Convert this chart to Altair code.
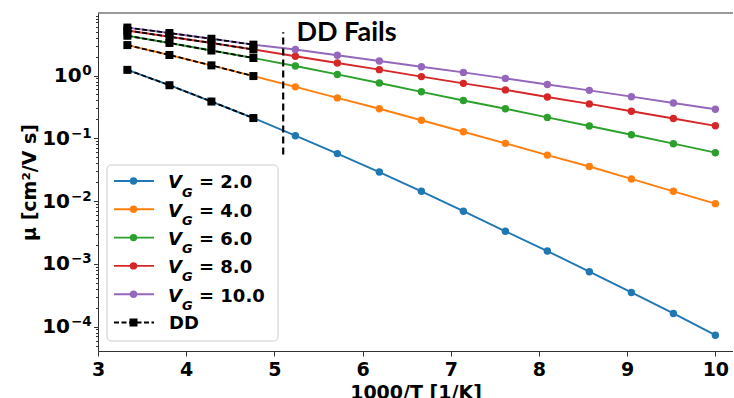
import altair as alt
import pandas as pd

# ---------------- data ----------------
x_vals = [3.333, 3.810, 4.286, 4.762, 5.238, 5.714, 6.190, 6.667,
          7.143, 7.619, 8.095, 8.571, 9.048, 9.524, 10.0]
vg_labels = ["2.0", "4.0", "6.0", "8.0", "10.0"]
mu_vg2 = [1.23, 0.70, 0.385, 0.21, 0.11, 0.057, 0.029, 0.0143,
          0.0069, 0.0033, 0.0016, 0.00075, 0.00035, 0.000162, 0.000073]
mu_vg4 = [3.05, 2.12, 1.45, 0.98, 0.66, 0.44, 0.295, 0.194,
          0.127, 0.083, 0.054, 0.0355, 0.0225, 0.0143, 0.0091]
mu_vg6 = [4.3, 3.3, 2.5, 1.9, 1.42, 1.04, 0.76, 0.55,
          0.40, 0.295, 0.215, 0.157, 0.114, 0.082, 0.059]
mu_vg8 = [5.2, 4.15, 3.3, 2.6, 2.03, 1.58, 1.24, 0.96,
          0.75, 0.59, 0.455, 0.353, 0.27, 0.207, 0.158]
mu_vg10 = [5.8, 4.75, 3.85, 3.1, 2.6, 2.1, 1.7, 1.38,
           1.12, 0.9, 0.72, 0.58, 0.46, 0.365, 0.29]
n_dd = 4  # DD solution available for the first four temperatures
dd_fail_x = 5.1
dd_fail_y = [0.055, 4.9]
x_ticks = [3, 4, 5, 6, 7, 8, 9, 10]
y_major_exp = [0, -1, -2, -3, -4]

colors = ["#1f77b4", "#ff7f0e", "#2ca02c", "#d62728", "#9467bd"]
series = [mu_vg2, mu_vg4, mu_vg6, mu_vg8, mu_vg10]

rows = []
for lab, ys in zip(vg_labels, series):
    for i, (xv, yv) in enumerate(zip(x_vals, ys)):
        rows.append({"x": xv, "mu": yv, "vg": lab, "i": i})
df = pd.DataFrame(rows)
dd = df[df["i"] < n_dd]

# ---------------- scales / axes ----------------
W, H = 635, 338
FONT = "DejaVu Sans"
FS = 19
xscale = alt.Scale(domain=[3, 10.2], nice=False, zero=False)
yscale = alt.Scale(type="log", domain=[4.09e-5, 9.9], nice=False)
cscale = alt.Scale(domain=vg_labels, range=colors)

y_ticks = []
for e in range(-5, 1):
    for m in range(1, 10):
        v = m * 10.0 ** e
        if 4.09e-5 <= v <= 9.9:
            y_ticks.append(v)

is_major = "abs(log(datum.value)/LN10 - round(log(datum.value)/LN10)) < 1e-6"

xaxis = alt.Axis(values=x_ticks, format="d", title="1000/T [1/K]", grid=False,
                 labelFont=FONT, labelFontSize=FS, labelFontWeight="bold",
                 labelColor="black", labelPadding=4, labelFlush=False,
                 titleFont=FONT, titleFontSize=FS, titleFontWeight="bold",
                 titleColor="black", titlePadding=4,
                 tickSize=5, tickColor="#333", domainColor="#333")
yaxis = alt.Axis(values=y_ticks, labels=False, title="μ [cm²/V s]", grid=False,
                 titleFont=FONT, titleFontSize=FS, titleFontWeight="bold",
                 titleColor="black", titleAngle=270, titleAlign="center",
                 titleBaseline="alphabetic", titleX=-63, titleY=H / 2,
                 tickSize={"condition": {"test": is_major, "value": 4.5}, "value": 2.5},
                 tickColor="#333", domainColor="#333")

base = alt.Chart(df)
lines = base.mark_line(strokeWidth=1.9).encode(
    x=alt.X("x:Q", scale=xscale, axis=xaxis),
    y=alt.Y("mu:Q", scale=yscale, axis=yaxis),
    color=alt.Color("vg:N", scale=cscale, legend=None),
    order="x:Q",
)
points = base.mark_point(filled=True, shape="circle", size=55, opacity=1).encode(
    x=alt.X("x:Q", scale=xscale),
    y=alt.Y("mu:Q", scale=yscale),
    color=alt.Color("vg:N", scale=cscale, legend=None),
)
dd_lines = alt.Chart(dd).mark_line(color="black", strokeWidth=1.8, strokeDash=[5, 2.5]).encode(
    x=alt.X("x:Q", scale=xscale),
    y=alt.Y("mu:Q", scale=yscale),
    detail="vg:N",
    order="x:Q",
)
dd_pts = alt.Chart(dd).mark_point(filled=True, shape="square", size=64, color="black", opacity=1).encode(
    x=alt.X("x:Q", scale=xscale),
    y=alt.Y("mu:Q", scale=yscale),
)
fail_df = pd.DataFrame({"x": [dd_fail_x], "y1": [dd_fail_y[0]], "y2": [dd_fail_y[1]]})
fail_line = alt.Chart(fail_df).mark_rule(color="black", strokeWidth=2.2, strokeDash=[7, 4]).encode(
    x=alt.X("x:Q", scale=xscale),
    y=alt.Y("y1:Q", scale=yscale),
    y2="y2:Q",
)
txt_df = pd.DataFrame({"x": [5.25], "mu": [3.53], "t": ["DD Fails"]})
fail_text = alt.Chart(txt_df).mark_text(font="Lato", fontSize=27, fontWeight="bold",
                                        align="left", baseline="alphabetic", color="black").encode(
    x=alt.X("x:Q", scale=xscale),
    y=alt.Y("mu:Q", scale=yscale),
    text="t:N",
)

# y tick labels as 10 with a raised exponent
lab_rows = []
for e in y_major_exp:
    lab_rows.append({"v": 10.0 ** e, "base": "10",
                     "exp": str(e).replace("-", "\u2212"), "neg": e < 0})
lab_df = pd.DataFrame(lab_rows)
ylab_layers = []
for neg, xb, xe in [(False, -16.3, -15.8), (True, -28.0, -27.0)]:
    sub = lab_df[lab_df["neg"] == neg]
    ylab_layers.append(alt.Chart(sub).mark_text(
        font=FONT, fontSize=20, fontWeight="bold", align="right", baseline="alphabetic",
        color="black", dy=6.5).encode(
        x=alt.value(xb), y=alt.Y("v:Q", scale=yscale), text="base:N"))
    ylab_layers.append(alt.Chart(sub).mark_text(
        font=FONT, fontSize=13.5, fontWeight="bold", align="left", baseline="alphabetic",
        color="black", dy=-0.5).encode(
        x=alt.value(xe), y=alt.Y("v:Q", scale=yscale), text="exp:N"))

one = pd.DataFrame({"a": [0]})
top_spine = alt.Chart(one).mark_rule(color="#333", strokeWidth=1).encode(
    x=alt.value(0), x2=alt.value(W), y=alt.value(0))

# ---------------- legend ----------------
layers = [lines, points, dd_lines, dd_pts, fail_line, fail_text, top_spine] + ylab_layers
box = alt.Chart(one).mark_rect(fill="white", fillOpacity=0.8, stroke="#cccccc",
                               strokeWidth=1, cornerRadius=4).encode(
    x=alt.value(9), x2=alt.value(180), y=alt.value(152), y2=alt.value(328))
layers.append(box)
row_y = [168, 196.3, 224.6, 252.9, 281.2, 309.5]
for k, (lab, c) in enumerate(zip(vg_labels, colors)):
    ry = row_y[k]
    layers.append(alt.Chart(one).mark_rule(color=c, strokeWidth=1.9).encode(
        x=alt.value(16), x2=alt.value(56), y=alt.value(ry)))
    layers.append(alt.Chart(one).mark_point(filled=True, shape="circle", size=55, color=c, opacity=1).encode(
        x=alt.value(35.5), y=alt.value(ry)))
    layers.append(alt.Chart(one).mark_text(text="V", font=FONT, fontSize=18, fontWeight="bold",
                                           fontStyle="italic", align="left", baseline="alphabetic",
                                           color="black").encode(x=alt.value(70), y=alt.value(ry + 7.3)))
    layers.append(alt.Chart(one).mark_text(text="G", font=FONT, fontSize=13, fontWeight="bold",
                                           fontStyle="italic", align="left", baseline="alphabetic",
                                           color="black").encode(x=alt.value(84), y=alt.value(ry + 15.5)))
    layers.append(alt.Chart(one).mark_text(text="= " + lab, font=FONT, fontSize=18, fontWeight="bold",
                                           align="left", baseline="alphabetic",
                                           color="black").encode(x=alt.value(101), y=alt.value(ry + 7.3)))
ry = row_y[5]
layers.append(alt.Chart(one).mark_rule(color="black", strokeWidth=1.8, strokeDash=[5, 2.5]).encode(
    x=alt.value(16), x2=alt.value(56), y=alt.value(ry)))
layers.append(alt.Chart(one).mark_point(filled=True, shape="square", size=64, color="black", opacity=1).encode(
    x=alt.value(35.5), y=alt.value(ry)))
layers.append(alt.Chart(one).mark_text(text="DD", font=FONT, fontSize=18, fontWeight="bold",
                                       align="left", baseline="alphabetic", color="black").encode(
    x=alt.value(71), y=alt.value(ry + 6.8)))

chart = alt.layer(*layers).properties(
    width=W, height=H,
    padding={"left": 98, "top": 13, "right": 0, "bottom": 47},
    autosize=alt.AutoSizeParams(type="none"),
    background="white",
).configure_view(stroke=None)

chart.save("out.html", embed_options={"renderer": "svg", "actions": False})
